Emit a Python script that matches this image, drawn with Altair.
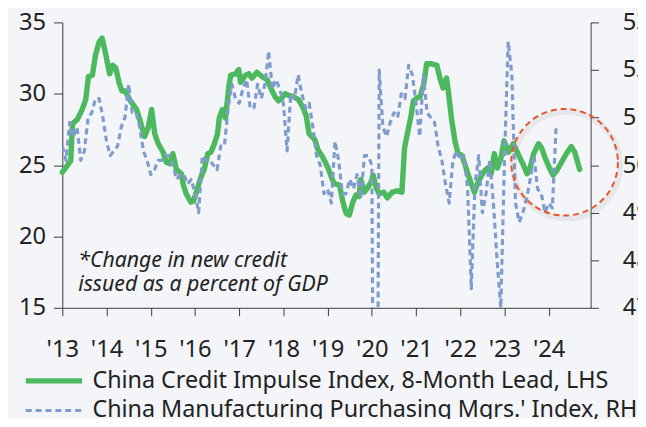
import altair as alt
import pandas as pd

GREEN_NAME = "China Credit Impulse Index, 8-Month Lead, LHS"
BLUE_NAME = "China Manufacturing Purchasing Mgrs.' Index, RHS"

# Credit impulse (LHS): decimal year, value
green_t = [2013.00, 2013.19, 2013.23, 2013.34, 2013.45, 2013.53, 2013.59, 2013.68, 2013.75, 2013.83,
           2013.90, 2013.98, 2014.07, 2014.14, 2014.21, 2014.29, 2014.35, 2014.42, 2014.54, 2014.68,
           2014.76, 2014.86, 2014.94, 2015.02, 2015.09, 2015.17, 2015.28, 2015.35, 2015.43, 2015.50,
           2015.58, 2015.69, 2015.73, 2015.80, 2015.91, 2015.97, 2016.06, 2016.14, 2016.21, 2016.29,
           2016.36, 2016.44, 2016.51, 2016.55, 2016.62, 2016.69, 2016.77, 2016.81, 2016.92, 2016.99,
           2017.03, 2017.14, 2017.22, 2017.29, 2017.40, 2017.52, 2017.63, 2017.70, 2017.81, 2017.89,
           2017.96, 2018.04, 2018.11, 2018.22, 2018.34, 2018.45, 2018.52, 2018.58, 2018.71, 2018.78,
           2018.90, 2019.01, 2019.08, 2019.15, 2019.27, 2019.34, 2019.42, 2019.49, 2019.57, 2019.64,
           2019.71, 2019.75, 2019.83, 2019.90, 2019.98, 2020.03, 2020.09, 2020.16, 2020.27, 2020.35,
           2020.46, 2020.57, 2020.68, 2020.74, 2020.83, 2020.89, 2020.94, 2021.02, 2021.09, 2021.17,
           2021.24, 2021.35, 2021.47, 2021.54, 2021.61, 2021.69, 2021.73, 2021.80, 2021.88, 2021.95,
           2022.03, 2022.10, 2022.17, 2022.25, 2022.32, 2022.39, 2022.47, 2022.55, 2022.62, 2022.70,
           2022.77, 2022.84, 2022.92, 2022.99, 2023.09, 2023.20, 2023.32, 2023.43, 2023.51, 2023.58,
           2023.66, 2023.77, 2023.84, 2023.92, 2024.03, 2024.10, 2024.18, 2024.29, 2024.40, 2024.51,
           2024.59, 2024.70]
green_v = [24.5, 25.3, 27.9, 28.2, 28.9, 29.6, 31.2, 31.3, 32.7, 33.6,
           33.9, 32.8, 31.4, 32.0, 31.8, 30.7, 30.2, 30.2, 29.5, 28.9,
           28.1, 27.0, 27.6, 28.9, 27.2, 26.5, 25.9, 25.2, 25.1, 25.8,
           24.7, 24.4, 23.7, 23.0, 22.4, 22.5, 23.4, 24.2, 24.7, 25.8,
           25.9, 26.5, 27.2, 28.3, 28.9, 28.3, 30.6, 31.3, 31.4, 31.7,
           30.8, 31.3, 31.4, 31.1, 31.5, 31.2, 31.0, 30.5, 29.8, 29.5,
           29.7, 30.0, 29.9, 29.8, 29.6, 29.0, 28.4, 27.2, 26.8, 26.1,
           25.5, 24.8, 24.2, 23.7, 23.6, 22.5, 21.6, 21.5, 22.4, 22.9,
           22.8, 24.0, 23.1, 23.4, 23.8, 24.3, 23.5, 23.0, 23.1, 22.7,
           23.1, 23.2, 23.1, 26.2, 27.6, 28.5, 29.5, 29.7, 29.8, 30.6,
           32.1, 32.1, 32.0, 31.1, 30.4, 31.1, 30.2, 28.3, 26.7, 25.8,
           25.7, 25.1, 24.4, 23.7, 23.1, 23.7, 24.2, 24.6, 24.8, 24.4,
           25.8, 24.8, 25.5, 26.7, 25.9, 26.5, 25.7, 25.0, 24.4, 24.8,
           25.8, 26.5, 26.2, 25.5, 24.7, 24.3, 24.6, 25.2, 25.8, 26.3,
           25.9, 24.7]

# Manufacturing PMI (RHS), monthly from Jan 2013 to Mar 2024
pmi_start_year = 2013
pmi_v = [50.4, 50.1, 50.9, 50.6, 50.8, 50.1, 50.3, 51.0, 51.1, 51.4, 51.4, 51.0,
         50.5, 50.2, 50.3, 50.4, 50.8, 51.0, 51.7, 51.1, 51.1, 50.8, 50.3, 50.1,
         49.8, 49.9, 50.1, 50.1, 50.2, 50.2, 50.0, 49.7, 49.8, 49.8, 49.6, 49.7,
         49.4, 49.0, 50.2, 50.1, 50.1, 50.0, 49.9, 50.4, 50.4, 51.2, 51.7, 51.4,
         51.3, 51.6, 51.8, 51.2, 51.2, 51.7, 51.4, 51.7, 52.4, 51.6, 51.8, 51.6,
         51.3, 50.3, 51.5, 51.4, 51.9, 51.5, 51.2, 51.3, 50.8, 50.2, 50.0, 49.4,
         49.5, 49.2, 50.5, 50.1, 49.4, 49.4, 49.7, 49.5, 49.8, 49.3, 50.2, 50.2,
         50.0, 35.7, 52.0, 50.8, 50.6, 50.9, 51.1, 51.0, 51.5, 51.4, 52.1, 51.9,
         51.3, 50.6, 51.9, 51.1, 51.0, 50.9, 50.4, 50.1, 49.6, 49.2, 50.1, 50.3,
         50.1, 50.2, 49.5, 47.4, 49.6, 50.2, 49.0, 49.4, 50.1, 49.2, 48.0, 47.0,
         50.1, 52.6, 51.9, 49.2, 48.8, 49.0, 49.3, 49.7, 50.2, 49.5, 49.4, 49.0,
         49.2, 49.1, 50.8]
pmi_t = [pmi_start_year + i / 12 for i in range(len(pmi_v))]

year_ticks = list(range(2013, 2025))
left_ticks = [15, 20, 25, 30, 35]
right_ticks = [47, 48, 49, 50, 51, 52, 53]

note_t = [2013.36]
note_v = [17.85]
note_text = ["*Change in new credit\nissued as a percent of GDP"]

circle_t = [2024.36]
circle_v = [25.2]

FONT = "Noto Sans"
GREEN = "#4DB95F"
BLUE = "#7F9CCC"
RED = "#E8542B"
BG = "#F3F5F8"
INK = "#222222"
AXIS = "#3a3a3a"

green_df = pd.DataFrame({"t": green_t, "v": green_v, "series": GREEN_NAME})
blue_df = pd.DataFrame({"t": pmi_t, "v": pmi_v, "series": BLUE_NAME})
note_df = pd.DataFrame({"t": note_t, "v": note_v, "label": note_text})
circle_df = pd.DataFrame({"t": circle_t, "v": circle_v})

domain_names = [GREEN_NAME, BLUE_NAME]
leg = alt.Legend(title=None, orient="none", legendX=-22.5, legendY=349, direction="vertical",
                 symbolType="M-2.59,0L2.59,0", symbolSize=484, labelFontSize=23.6, labelFont=FONT,
                 labelColor=INK, labelOffset=25, rowPadding=5, padding=0, labelLimit=800)

color = alt.Color("series:N", scale=alt.Scale(domain=domain_names, range=[GREEN, BLUE]), legend=leg)
dash = alt.StrokeDash("series:N", scale=alt.Scale(domain=domain_names, range=[[1, 0], [6, 4]]), legend=leg)
sw = alt.StrokeWidth("series:N", scale=alt.Scale(domain=domain_names, range=[5.5, 3.2]), legend=leg)

x_enc = alt.X("t:Q", scale=alt.Scale(domain=[2013, 2024.948], nice=False, zero=False),
              axis=alt.Axis(values=year_ticks, labelExpr="\"'\" + slice(toString(datum.value), 2)",
                            title=None, grid=False, tickSize=8, labelPadding=22,
                            labelOverlap=False, labelFlush=False))

green_line = alt.Chart(green_df).mark_line(strokeJoin="round", strokeCap="round").encode(
    x=x_enc,
    y=alt.Y("v:Q", scale=alt.Scale(domain=[15, 35], nice=False, zero=False),
            axis=alt.Axis(values=left_ticks, title=None, grid=False, tickSize=9, labelPadding=8,
                          labelFlush=False)),
    color=color, strokeDash=dash, strokeWidth=sw,
)

blue_line = alt.Chart(blue_df).mark_line(clip=True, strokeJoin="round").encode(
    x=x_enc,
    y=alt.Y("v:Q", scale=alt.Scale(domain=[47, 53], nice=False, zero=False),
            axis=alt.Axis(orient="right", values=right_ticks, title=None, grid=False,
                          tickSize=8, labelPadding=24, labelFlush=False)),
    color=color, strokeDash=dash, strokeWidth=sw,
)

ann_y = alt.Y("v:Q", scale=alt.Scale(domain=[15, 35], nice=False, zero=False), axis=None)

shadow = alt.Chart(circle_df).mark_point(shape="circle", filled=False, size=11664, stroke="#888888",
                                         strokeWidth=6, opacity=0.12, xOffset=2, yOffset=3).encode(
    x=x_enc, y=ann_y)
circle = alt.Chart(circle_df).mark_point(shape="circle", filled=False, size=11664, stroke=RED,
                                         strokeWidth=2, strokeDash=[6, 4], opacity=1).encode(
    x=x_enc, y=ann_y)

note = alt.Chart(note_df).mark_text(align="left", baseline="alphabetic", fontStyle="italic",
                                    fontSize=21.5, font=FONT, color=INK, lineBreak="\n",
                                    lineHeight=24).encode(
    x=x_enc, y=ann_y, text="label:N")

chart = alt.layer(green_line, blue_line, shadow, circle, note).resolve_scale(
    y="independent"
).properties(
    width=535, height=289,
    padding={"left": 55, "top": 12, "right": 48, "bottom": 110},
    autosize=alt.AutoSizeParams(type="none"),
    background=BG,
).configure_view(stroke=None).configure_axis(
    labelFont=FONT, labelFontSize=24, labelColor=INK, domainColor=AXIS, tickColor=AXIS,
    domainWidth=1, tickWidth=1,
)

chart.save("out.html", embed_options={"renderer": "svg", "actions": False})
